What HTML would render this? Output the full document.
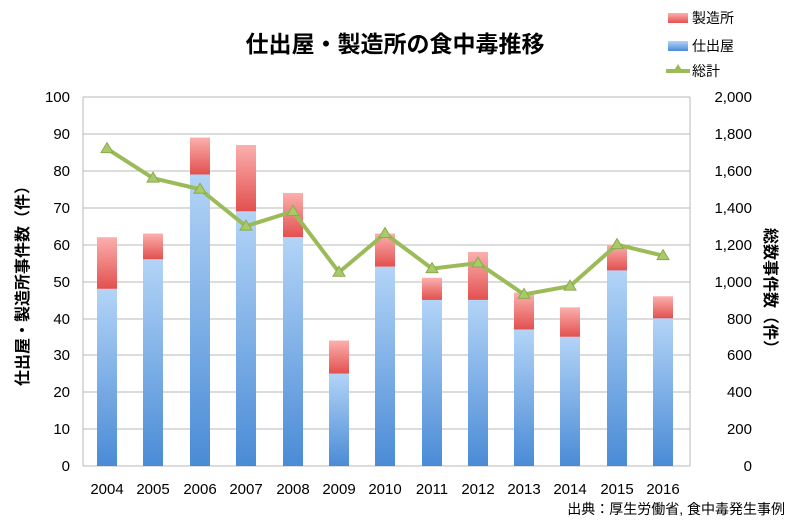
<!DOCTYPE html>
<html><head><meta charset="utf-8"><style>
body{margin:0;background:#fff;width:800px;height:520px;overflow:hidden;font-family:"Liberation Sans","Noto Sans CJK JP",sans-serif}
</style></head><body>
<svg width="800" height="520" xmlns="http://www.w3.org/2000/svg" font-family="Liberation Sans, Noto Sans CJK JP, sans-serif">
<defs>
<linearGradient id="r" x1="0" y1="0" x2="0" y2="1"><stop offset="0" stop-color="#fbb0ae"/><stop offset="1" stop-color="#e2504f"/></linearGradient>
<linearGradient id="b" x1="0" y1="0" x2="0" y2="1"><stop offset="0" stop-color="#b3d4f7"/><stop offset="1" stop-color="#4a8bd6"/></linearGradient>
</defs>
<text x="395" y="52" font-size="23" font-weight="bold" text-anchor="middle">仕出屋・製造所の食中毒推移</text>
<rect x="668" y="13" width="20" height="10" fill="url(#r)"/><text x="692" y="23" font-size="14">製造所</text>
<rect x="668" y="41" width="20" height="10" fill="url(#b)"/><text x="692" y="51" font-size="14">仕出屋</text>
<line x1="666" y1="71" x2="690" y2="71" stroke="#9bbb59" stroke-width="4"/><polygon points="678,64 683,72 673,72" fill="#9bbb59"/><text x="692" y="76" font-size="14">総計</text>
<g stroke="#b8b8b8" stroke-width="1">
<line x1="83" y1="97" x2="690" y2="97"/><line x1="83" y1="134" x2="690" y2="134"/><line x1="83" y1="171" x2="690" y2="171"/><line x1="83" y1="208" x2="690" y2="208"/><line x1="83" y1="245" x2="690" y2="245"/><line x1="83" y1="282" x2="690" y2="282"/><line x1="83" y1="319" x2="690" y2="319"/><line x1="83" y1="355" x2="690" y2="355"/><line x1="83" y1="392" x2="690" y2="392"/><line x1="83" y1="429" x2="690" y2="429"/>
<line x1="83" y1="97" x2="83" y2="466"/><line x1="690" y1="97" x2="690" y2="466"/><line x1="83" y1="466" x2="690" y2="466"/>
</g>
<g font-size="15" text-anchor="end">
<text x="70" y="102">100</text><text x="70" y="139">90</text><text x="70" y="176">80</text><text x="70" y="213">70</text><text x="70" y="250">60</text><text x="70" y="287">50</text><text x="70" y="324">40</text><text x="70" y="360">30</text><text x="70" y="397">20</text><text x="70" y="434">10</text><text x="70" y="471">0</text>
</g>
<g font-size="15" text-anchor="end">
<text x="752" y="102">2,000</text><text x="752" y="139">1,800</text><text x="752" y="176">1,600</text><text x="752" y="213">1,400</text><text x="752" y="250">1,200</text><text x="752" y="287">1,000</text><text x="752" y="324">800</text><text x="752" y="360">600</text><text x="752" y="397">400</text><text x="752" y="434">200</text><text x="752" y="471">0</text>
</g>
<g>
<rect x="97" y="237.22" width="20" height="51.66" fill="url(#r)"/><rect x="97" y="288.88" width="20" height="177.12" fill="url(#b)"/>
<rect x="143" y="233.53" width="20" height="25.83" fill="url(#r)"/><rect x="143" y="259.36" width="20" height="206.64" fill="url(#b)"/>
<rect x="190" y="137.59" width="20" height="36.9" fill="url(#r)"/><rect x="190" y="174.49" width="20" height="291.51" fill="url(#b)"/>
<rect x="236" y="144.97" width="20" height="66.42" fill="url(#r)"/><rect x="236" y="211.39" width="20" height="254.61" fill="url(#b)"/>
<rect x="283" y="192.94" width="20" height="44.28" fill="url(#r)"/><rect x="283" y="237.22" width="20" height="228.78" fill="url(#b)"/>
<rect x="329" y="340.54" width="20" height="33.21" fill="url(#r)"/><rect x="329" y="373.75" width="20" height="92.25" fill="url(#b)"/>
<rect x="375" y="233.53" width="20" height="33.21" fill="url(#r)"/><rect x="375" y="266.74" width="20" height="199.26" fill="url(#b)"/>
<rect x="422" y="277.81" width="20" height="22.14" fill="url(#r)"/><rect x="422" y="299.95" width="20" height="166.05" fill="url(#b)"/>
<rect x="468" y="251.98" width="20" height="47.97" fill="url(#r)"/><rect x="468" y="299.95" width="20" height="166.05" fill="url(#b)"/>
<rect x="514" y="292.57" width="20" height="36.9" fill="url(#r)"/><rect x="514" y="329.47" width="20" height="136.53" fill="url(#b)"/>
<rect x="560" y="307.33" width="20" height="29.52" fill="url(#r)"/><rect x="560" y="336.85" width="20" height="129.15" fill="url(#b)"/>
<rect x="607" y="244.6" width="20" height="25.83" fill="url(#r)"/><rect x="607" y="270.43" width="20" height="195.57" fill="url(#b)"/>
<rect x="653" y="296.26" width="20" height="22.14" fill="url(#r)"/><rect x="653" y="318.4" width="20" height="147.6" fill="url(#b)"/>
</g>
<polyline points="107,148.66 153,178.18 200,189.25 246,226.15 293,211.39 339,272.28 385,233.53 432,268.59 478,263.05 524,294.42 570,286.11 617,244.6 663,255.67" fill="none" stroke="#9bbb59" stroke-width="4" stroke-linejoin="round"/>
<g fill="#a9c96a" stroke="#8aab4a" stroke-width="1">
<polygon points="107,142.66 113,152.66 101,152.66"/>
<polygon points="153,172.18 159,182.18 147,182.18"/>
<polygon points="200,183.25 206,193.25 194,193.25"/>
<polygon points="246,220.15 252,230.15 240,230.15"/>
<polygon points="293,205.39 299,215.39 287,215.39"/>
<polygon points="339,266.28 345,276.28 333,276.28"/>
<polygon points="385,227.53 391,237.53 379,237.53"/>
<polygon points="432,262.59 438,272.59 426,272.59"/>
<polygon points="478,257.05 484,267.05 472,267.05"/>
<polygon points="524,288.42 530,298.42 518,298.42"/>
<polygon points="570,280.11 576,290.11 564,290.11"/>
<polygon points="617,238.6 623,248.6 611,248.6"/>
<polygon points="663,249.67 669,259.67 657,259.67"/>
</g>
<g font-size="15" text-anchor="middle">
<text x="107" y="494">2004</text><text x="153" y="494">2005</text><text x="200" y="494">2006</text><text x="246" y="494">2007</text><text x="293" y="494">2008</text><text x="339" y="494">2009</text><text x="385" y="494">2010</text><text x="432" y="494">2011</text><text x="478" y="494">2012</text><text x="524" y="494">2013</text><text x="570" y="494">2014</text><text x="617" y="494">2015</text><text x="663" y="494">2016</text>
</g>
<text transform="translate(28,282) rotate(-90)" font-size="16" font-weight="bold" text-anchor="middle">仕出屋・製造所事件数（件）</text>
<text transform="translate(765,292) rotate(90)" font-size="16" font-weight="bold" text-anchor="middle">総数事件数（件）</text>
<text x="785" y="514" font-size="14" text-anchor="end">出典：厚生労働省, 食中毒発生事例</text>
</svg>
</body></html>
